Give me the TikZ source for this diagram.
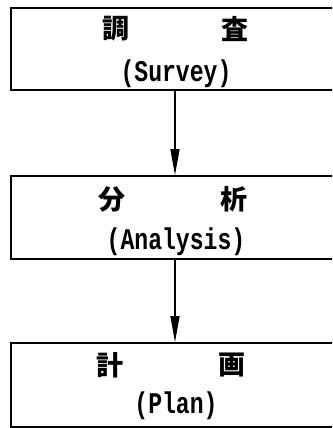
\documentclass[tikz,border=0pt]{standalone}
\usepackage{fontspec}
\newfontfamily\latfont[FakeStretch=0.77]{Liberation Mono}
\newfontfamily\jpfont{Noto Sans CJK JP}
\usetikzlibrary{arrows.meta}
\tikzset{
  box/.style={draw, line width=1.8pt, minimum width=328pt, inner sep=0pt},
  jp/.style={font=\jpfont\bfseries\fontsize{27}{29}\selectfont, inner sep=0pt},
  lat/.style={font=\latfont\bfseries\fontsize{30}{32}\selectfont, inner sep=0pt},
  flow/.style={line width=1.3pt, -{Triangle[length=26pt,width=9pt]}}
}
\begin{document}
\begin{tikzpicture}[x=1pt,y=-1pt]
\useasboundingbox (0,0) rectangle (332,428);
\fill[white] (0,0) rectangle (332,428);
\clip (0,0) rectangle (332,428);
\node[box, minimum height=82pt] (b1) at (175,49) {};
\node[box, minimum height=83pt] (b2) at (175,217.5) {};
\node[box, minimum height=84pt] (b3) at (175,385) {};
\node[jp] (t1a) at (116,29) {調};
\node[jp] (t1b) at (235,29) {査};
\node[lat] (t1c) at (176,74) {(Survey)};
\node[jp] (t2a) at (112,199) {分};
\node[jp] (t2b) at (234,199) {析};
\node[lat] (t2c) at (176,242) {(Analysis)};
\node[jp] (t3a) at (110,365) {計};
\node[jp] (t3b) at (232,365) {画};
\node[lat] (t3c) at (176,406) {(Plan)};
\draw[flow] (b1.south) -- (b2.north);
\draw[flow] (b2.south) -- (b3.north);
\end{tikzpicture}
\end{document}
